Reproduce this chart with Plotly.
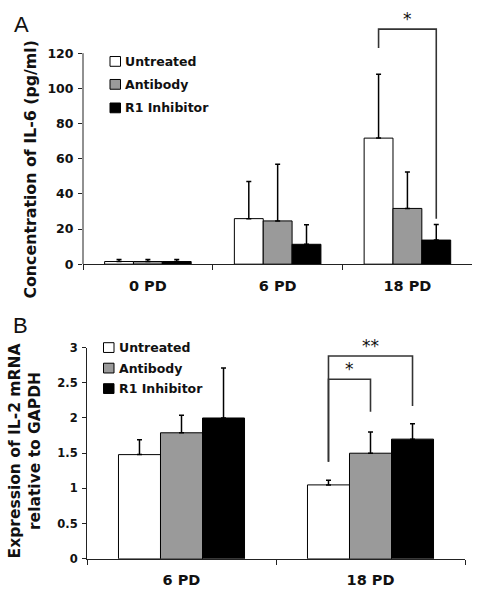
import plotly.graph_objects as go

# ---------------- data ----------------
series = ["Untreated", "Antibody", "R1 Inhibitor"]
series_colors = ["#ffffff", "#9a9a9a", "#000000"]

cats_a = ["0 PD", "6 PD", "18 PD"]
il6_untreated = [1.5, 25.9, 71.7]
il6_antibody = [1.5, 24.6, 31.7]
il6_r1 = [1.5, 11.3, 13.7]
il6_untreated_sd = [1.2, 21.1, 36.3]
il6_antibody_sd = [1.2, 32.2, 20.7]
il6_r1_sd = [1.2, 11.1, 8.9]
ticks_a = [0, 20, 40, 60, 80, 100, 120]

cats_b = ["6 PD", "18 PD"]
il2_untreated = [1.48, 1.05]
il2_antibody = [1.79, 1.50]
il2_r1 = [2.00, 1.70]
il2_untreated_sd = [0.21, 0.065]
il2_antibody_sd = [0.25, 0.30]
il2_r1_sd = [0.71, 0.22]
ticks_b = [0, 0.5, 1, 1.5, 2, 2.5, 3]
ticktext_b = ["0", "0.5", "1", "1.5", "2", "2.5", "3"]

# significance brackets: category index, from series, to series, top, left foot, right foot, label
sig_a = [(2, 0, 2, 133.7, 123.0, 25.9, "*")]
sig_b = [(1, 0, 1, 2.55, 1.38, 2.09, "*"),
         (1, 0, 2, 2.88, 1.38, 2.17, "**")]

# ---------------- styling ----------------
FONT = "DejaVu Sans"
AXC = "#222222"
BARGAP = 0.333
W = (1 - BARGAP) / 3

fig = go.Figure()

vals_a = [il6_untreated, il6_antibody, il6_r1]
sds_a = [il6_untreated_sd, il6_antibody_sd, il6_r1_sd]
vals_b = [il2_untreated, il2_antibody, il2_r1]
sds_b = [il2_untreated_sd, il2_antibody_sd, il2_r1_sd]

for i, name in enumerate(series):
    fig.add_trace(go.Bar(
        x=cats_a, y=vals_a[i], name=name, xaxis="x", yaxis="y",
        marker=dict(color=series_colors[i], line=dict(color="#000000", width=1)),
        error_y=dict(type="data", symmetric=False, array=sds_a[i],
                     arrayminus=[0] * len(cats_a), color="#000000",
                     thickness=1.5, width=2.5),
        showlegend=False))
for i, name in enumerate(series):
    fig.add_trace(go.Bar(
        x=cats_b, y=vals_b[i], name=name, xaxis="x2", yaxis="y2",
        marker=dict(color=series_colors[i], line=dict(color="#000000", width=1)),
        error_y=dict(type="data", symmetric=False, array=sds_b[i],
                     arrayminus=[0] * len(cats_b), color="#000000",
                     thickness=1.5, width=2.5),
        showlegend=False))

shapes = []
annotations = []

XA0, XA1 = 83 / 479, 472.3 / 479
XB0, XB1 = 87 / 479, 465 / 479
# y-axis line of panel A (ends at last tick)
shapes.append(dict(type="line", xref="paper", yref="y", x0=XA0, x1=XA0,
                   y0=0, y1=ticks_a[-1], line=dict(color=AXC, width=1)))


def add_brackets(sigs, xref, yref, star_shift):
    for cat, s0, s1, top, lft, rgt, lab in sigs:
        xl = cat + (s0 - 1) * W
        xr = cat + (s1 - 1) * W
        shapes.append(dict(type="path", xref=xref, yref=yref,
                           path=f"M{xl},{lft} L{xl},{top} L{xr},{top} L{xr},{rgt}",
                           line=dict(color="#333333", width=1.6)))
        annotations.append(dict(x=(xl + xr) / 2, y=top, xref=xref, yref=yref,
                                text=lab, showarrow=False, yanchor="bottom",
                                yshift=star_shift,
                                font=dict(family=FONT, size=17, color="#111111")))


add_brackets(sig_a, "x", "y", -2)
add_brackets(sig_b, "x2", "y2", -2)


# custom legends
def add_legend(x_px, y_centers_px):
    for i, name in enumerate(series):
        yc = y_centers_px[i]
        shapes.append(dict(type="rect", xref="paper", yref="paper",
                           x0=x_px / 479, x1=(x_px + 10.5) / 479,
                           y0=1 - (yc + 5) / 601, y1=1 - (yc - 5) / 601,
                           fillcolor=series_colors[i],
                           line=dict(color="#000000", width=1)))
        annotations.append(dict(x=(x_px + 13) / 479, y=1 - yc / 601,
                                xref="paper", yref="paper", text=name,
                                showarrow=False, xanchor="left", yanchor="middle",
                                font=dict(family=FONT, size=12.5, color="#111111",
                                          weight="bold")))


add_legend(110, [55.7, 79.2, 103.3])
add_legend(103.5, [348.7, 369.7, 390.7])

# panel letters
annotations.append(dict(x=12 / 479, y=1 - 18 / 601, xref="paper", yref="paper",
                        text="A", showarrow=False, xanchor="left", yanchor="middle",
                        font=dict(family="Liberation Sans", size=22, color="#111111")))
annotations.append(dict(x=11 / 479, y=1 - 326 / 601, xref="paper", yref="paper",
                        text="B", showarrow=False, xanchor="left", yanchor="middle",
                        font=dict(family="Liberation Sans", size=22, color="#111111")))

# axis titles
annotations.append(dict(x=31 / 479, y=1 - 166.5 / 601, xref="paper", yref="paper",
                        text="Concentration of IL-6 (pg/ml)", showarrow=False,
                        textangle=-90, xanchor="center", yanchor="middle",
                        font=dict(family=FONT, size=15.8, color="#111111", weight="bold")))
annotations.append(dict(x=25 / 479, y=1 - 455 / 601, xref="paper", yref="paper",
                        text="Expression of IL-2 mRNA<br>relative to GAPDH", showarrow=False,
                        textangle=-90, xanchor="center", yanchor="middle",
                        font=dict(family=FONT, size=15.5, color="#111111", weight="bold")))

tickfont_y = dict(family=FONT, size=12.5, color="#111111", weight="bold")
tickfont_x = dict(family=FONT, size=14.5, color="#111111", weight="bold")

fig.update_layout(
    width=479, height=601,
    margin=dict(l=0, r=0, t=0, b=0),
    paper_bgcolor="white", plot_bgcolor="white",
    barmode="group", bargap=BARGAP, bargroupgap=0,
    showlegend=False,
    shapes=shapes, annotations=annotations,
    xaxis=dict(domain=[XA0, XA1], anchor="y", type="category",
               showline=True, linecolor=AXC, linewidth=1,
               ticks="outside", tickson="boundaries", ticklen=5, tickcolor=AXC,
               tickfont=tickfont_x, ticklabelstandoff=8, showgrid=False,
               range=[-0.5, len(cats_a) - 0.5]),
    yaxis=dict(domain=[1 - 263.3 / 601, 1 - 11.3 / 601], anchor="x",
               range=[0, 140], tickvals=ticks_a, ticks="outside", ticklen=4,
               tickcolor=AXC, tickfont=tickfont_y, showline=False,
               showgrid=False, zeroline=False, ticklabelstandoff=2),
    xaxis2=dict(domain=[XB0, XB1], anchor="y2", type="category",
                showline=True, linecolor=AXC, linewidth=1,
                ticks="outside", tickson="boundaries", ticklen=5, tickcolor=AXC,
                tickfont=tickfont_x, ticklabelstandoff=8, showgrid=False,
                range=[-0.5, len(cats_b) - 0.5]),
    yaxis2=dict(domain=[1 - 565 / 601, 1 - 348.7 / 601], anchor="x2",
                range=[0, 3], tickvals=ticks_b, ticktext=ticktext_b,
                ticks="outside", ticklen=4, tickcolor=AXC,
                tickfont=dict(family=FONT, size=11.5, color="#111111", weight="bold"),
                showline=True, linecolor=AXC, linewidth=1,
                showgrid=False, zeroline=False, ticklabelstandoff=2),
)

fig.write_html("out.html", config={"displayModeBar": False},
               post_script="document.body.style.margin='0px';document.body.style.overflow='hidden';")
